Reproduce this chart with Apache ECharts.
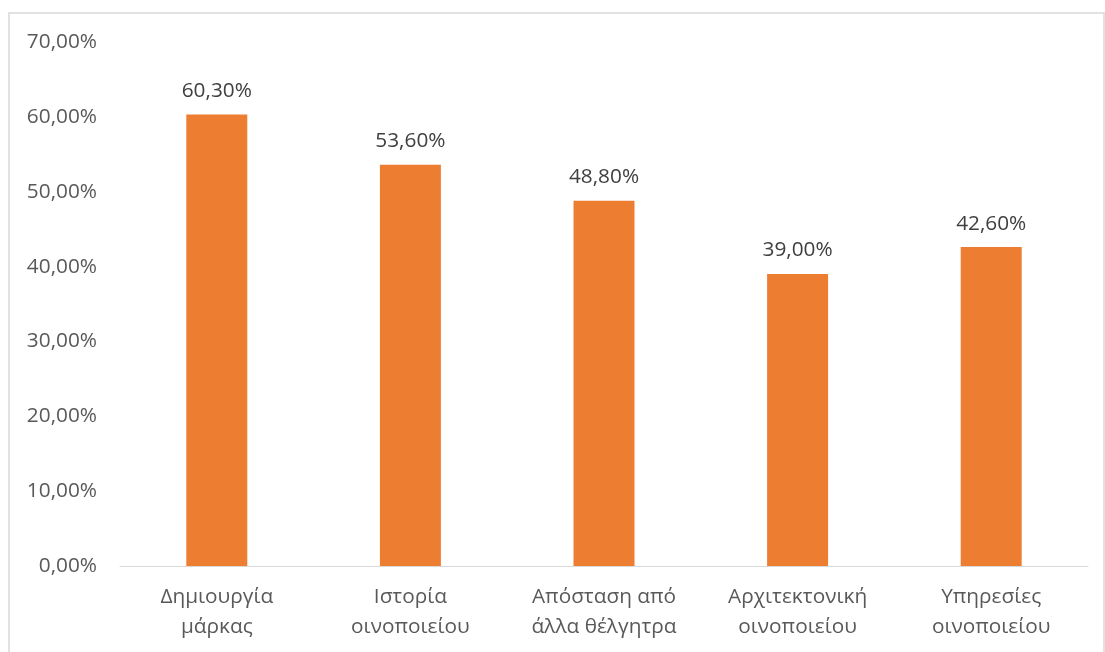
<!DOCTYPE html>
<html>
<head>
<meta charset="utf-8">
<script src="https://cdn.jsdelivr.net/npm/echarts@6/dist/echarts.min.js"></script>
<style>
  html, body { margin: 0; padding: 0; background: #ffffff; }
  #chart { width: 1105px; height: 652px; }
</style>
</head>
<body>
<div id="chart"></div>
<script>
// Categories (wine-tourism factors) and their shares in percent
const categories = [
  'Δημιουργία\nμάρκας',
  'Ιστορία\nοινοποιείου',
  'Απόσταση από\nάλλα θέλγητρα',
  'Αρχιτεκτονική\nοινοποιείου',
  'Υπηρεσίες\nοινοποιείου'
];
const values = [60.3, 53.6, 48.8, 39.0, 42.6];
const yTicks = { min: 0, max: 70, interval: 10 };

const fmt = v => v.toFixed(2).replace('.', ',') + '%';
const FONT = '"Open Sans", "Noto Sans", sans-serif';
const FS = 20.8;

const chart = echarts.init(document.getElementById('chart'));
chart.setOption({
  animation: false,
  backgroundColor: '#ffffff',
  graphic: [{
    type: 'rect',
    shape: { x: 9, y: 13, width: 1095, height: 700 },
    style: { fill: 'none', stroke: '#d9d9d9', lineWidth: 1.5 },
    silent: true
  }],
  grid: { left: 120, right: 17, top: 42, bottom: 86, containLabel: false },
  xAxis: {
    type: 'category',
    data: categories,
    axisLine: { lineStyle: { color: '#d9d9d9', width: 1 } },
    axisTick: { show: false },
    axisLabel: {
      color: '#595959', fontFamily: FONT, fontSize: FS,
      lineHeight: 30, margin: 16, interval: 0
    }
  },
  yAxis: {
    type: 'value',
    min: yTicks.min, max: yTicks.max, interval: yTicks.interval,
    splitLine: { show: false },
    axisLine: { show: false },
    axisTick: { show: false },
    axisLabel: {
      color: '#595959', fontFamily: FONT, fontSize: FS,
      margin: 23, formatter: fmt
    }
  },
  series: [{
    type: 'bar',
    data: values,
    barWidth: '31.5%',
    itemStyle: { color: '#ed7d31' },
    label: {
      show: true, position: 'top', distance: 13,
      color: '#404040', fontFamily: FONT, fontSize: FS,
      formatter: p => fmt(p.value)
    }
  }]
});
</script>
</body>
</html>
